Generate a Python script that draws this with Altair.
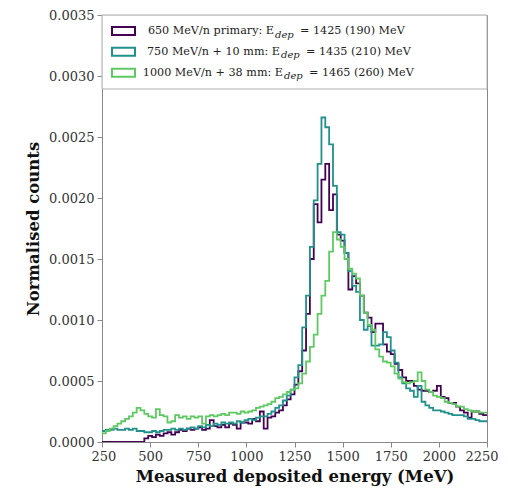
import altair as alt
import pandas as pd

FONT = "DejaVu Serif"

# bin edges (MeV), 20 MeV bins from 250 to 2250
edges = [250 + 20 * i for i in range(101)]

names = [
    "650 MeV/n primary",
    "750 MeV/n + 10 mm",
    "1000 MeV/n + 38 mm",
]
colors = ["#440154", "#21918c", "#5ec962"]

# normalised counts per bin
purple = [
    0, 0, 0, 0, 0, 0, 0, 0, 0, 0,
    0, 0.00003, 0.00005, 0.00004, 0.00006, 0.00005, 0.00007, 0.00008, 0.00006, 0.00008,
    0.00010, 0.00009, 0.00011, 0.00010, 0.00011, 0.00012, 0.00010, 0.00011, 0.00018, 0.00013,
    0.00012, 0.00014, 0.00012, 0.00015, 0.00014, 0.00011, 0.00016, 0.00016, 0.00015, 0.00019,
    0.00017, 0.00025, 0.00011, 0.00020, 0.00021, 0.00024, 0.00026, 0.00030, 0.00035, 0.00039,
    0.00047, 0.00058, 0.00075, 0.00105, 0.00150, 0.00195, 0.00180, 0.00215, 0.00228, 0.00190,
    0.00203, 0.00170, 0.00165, 0.00155, 0.00125, 0.00136, 0.00130, 0.00120, 0.00106, 0.00102,
    0.00090, 0.00097, 0.00097, 0.00080, 0.00074, 0.00072, 0.00064, 0.00059, 0.00053, 0.00050,
    0.00050, 0.00046, 0.00043, 0.00042, 0.00042, 0.00041, 0.00042, 0.00046, 0.00037, 0.00036,
    0.00032, 0.00032, 0.00029, 0.00026, 0.00024, 0.00020, 0.00025, 0.00025, 0.00023, 0.00022,
]
teal = [
    0.00009, 0.00010, 0.00010, 0.00011, 0.00010, 0.00010, 0.00011, 0.00010, 0.00011, 0.00009,
    0.00009, 0.00008, 0.00008, 0.00009, 0.00008, 0.00009, 0.00010, 0.00010, 0.00011, 0.00010,
    0.00011, 0.00010, 0.00011, 0.00012, 0.00011, 0.00013, 0.00012, 0.00014, 0.00013, 0.00015,
    0.00014, 0.00016, 0.00015, 0.00016, 0.00015, 0.00017, 0.00016, 0.00018, 0.00019, 0.00018,
    0.00020, 0.00021, 0.00021, 0.00023, 0.00025, 0.00028, 0.00030, 0.00034, 0.00038, 0.00043,
    0.00053, 0.00063, 0.00094, 0.00120, 0.00160, 0.00198, 0.00228, 0.00266, 0.00258, 0.00244,
    0.00210, 0.00172, 0.00170, 0.00155, 0.00140, 0.00128, 0.00123, 0.00100, 0.00092, 0.00095,
    0.00079, 0.00079, 0.00080, 0.00090, 0.00086, 0.00075, 0.00065, 0.00053, 0.00048, 0.00044,
    0.00042, 0.00037, 0.00046, 0.00033, 0.00030, 0.00028, 0.00026, 0.00026, 0.00025, 0.00024,
    0.00023, 0.00022, 0.00022, 0.00022, 0.00021, 0.00019, 0.00019, 0.00018, 0.00017, 0.00017,
]
green = [
    0.00007, 0.00009, 0.00011, 0.00013, 0.00015, 0.00017, 0.00019, 0.00021, 0.00024, 0.00028,
    0.00026, 0.00023, 0.00021, 0.00020, 0.00027, 0.00022, 0.00021, 0.00016, 0.00017, 0.00022,
    0.00020, 0.00021, 0.00019, 0.00021, 0.00020, 0.00021, 0.00015, 0.00021, 0.00022, 0.00021,
    0.00022, 0.00023, 0.00022, 0.00024, 0.00024, 0.00023, 0.00025, 0.00024, 0.00025, 0.00026,
    0.00028, 0.00029, 0.00030, 0.00031, 0.00033, 0.00036, 0.00037, 0.00039, 0.00041, 0.00043,
    0.00044, 0.00048, 0.00056, 0.00066, 0.00078, 0.00088, 0.00105, 0.00120, 0.00132, 0.00156,
    0.00172, 0.00166, 0.00160, 0.00150, 0.00142, 0.00138, 0.00134, 0.00120, 0.00106, 0.00096,
    0.00092, 0.00076, 0.00070, 0.00066, 0.00065, 0.00062, 0.00056, 0.00052, 0.00049, 0.00048,
    0.00049, 0.00050, 0.00057, 0.00050, 0.00043, 0.00041, 0.00038, 0.00037, 0.00036, 0.00033,
    0.00032, 0.00031, 0.00029, 0.00029, 0.00027, 0.00026, 0.00025, 0.00025, 0.00024, 0.00024,
]

x_ticks = [250, 500, 750, 1000, 1250, 1500, 1750, 2000, 2250]
y_ticks = [0, 0.0005, 0.001, 0.0015, 0.002, 0.0025, 0.003, 0.0035]

legend_head = ["650 MeV/n primary: E", "750 MeV/n + 10 mm: E", "1000 MeV/n + 38 mm: E"]
legend_tail = ["= 1425 (190) MeV", "= 1435 (210) MeV", "= 1465 (260) MeV"]

W, H = 385, 427

x_enc = alt.X(
    "energy:Q",
    scale=alt.Scale(domain=[250, 2250], nice=False, zero=False),
    axis=alt.Axis(values=x_ticks, format="d", labelOverlap=False, labelFlush=True,
                  labelFlushOffset=11, title="Measured deposited energy (MeV)"),
)
y_enc = alt.Y(
    "value:Q",
    scale=alt.Scale(domain=[0, 0.0035], nice=False),
    axis=alt.Axis(values=y_ticks, format=".4f", labelOverlap=False, labelFlush=False,
                  title="Normalised counts"),
)


def series_df(vals):
    return pd.DataFrame({"energy": edges, "value": vals + [vals[-1]]})


layers = []
for vals, col in zip([purple, teal, green], colors):
    layers.append(
        alt.Chart(series_df(vals))
        .mark_line(interpolate="step-after", color=col, strokeWidth=1.8, clip=True)
        .encode(x=x_enc, y=y_enc)
    )

# legend frame
one = pd.DataFrame({"k": [0]})
layers.append(
    alt.Chart(one)
    .mark_rect(fill="white", fillOpacity=0.8, stroke="#b0b0b0", strokeWidth=1)
    .encode(x=alt.value(0), x2=alt.value(W), y=alt.value(0), y2=alt.value(74))
)

row_y = [16, 36.7, 57.7]
e_end = [172, 178, 181]
tail_x = [198, 204, 207]
for r in range(3):
    layers.append(
        alt.Chart(one)
        .mark_rect(fillOpacity=0, stroke=colors[r], strokeWidth=2)
        .encode(x=alt.value(10), x2=alt.value(33),
                y=alt.value(row_y[r] - 4), y2=alt.value(row_y[r] + 4))
    )
    layers.append(
        alt.Chart(one)
        .mark_text(text=legend_head[r], font=FONT, fontSize=11.2, align="right",
                   baseline="middle", color="#222")
        .encode(x=alt.value(e_end[r]), y=alt.value(row_y[r]))
    )
    layers.append(
        alt.Chart(one)
        .mark_text(text="dep", font=FONT, fontSize=10, fontStyle="italic", align="left",
                   baseline="middle", color="#222")
        .encode(x=alt.value(e_end[r] + 1), y=alt.value(row_y[r] + 3.5))
    )
    layers.append(
        alt.Chart(one)
        .mark_text(text=legend_tail[r], font=FONT, fontSize=11.2, align="left",
                   baseline="middle", color="#222")
        .encode(x=alt.value(tail_x[r]), y=alt.value(row_y[r]))
    )

chart = (
    alt.layer(*layers)
    .properties(
        width=W,
        height=H,
        padding={"left": 94, "top": 7, "right": 12, "bottom": 45},
        autosize=alt.AutoSizeParams(type="none"),
    )
    .configure_view(stroke="#888888", strokeWidth=1)
    .configure_axis(
        labelFont=FONT,
        labelFontSize=13,
        labelColor="#333333",
        tickColor="#888888",
        domainColor="#888888",
        tickSize=5,
        labelPadding=3,
        titleFont=FONT,
        titleFontSize=16.5,
        titleFontWeight="bold",
        titleColor="#111111",
        grid=False,
    )
    .configure_axisX(titlePadding=5)
    .configure_axisY(titlePadding=7)
)

chart.save("out.html", embed_options={"renderer": "svg", "actions": False})
